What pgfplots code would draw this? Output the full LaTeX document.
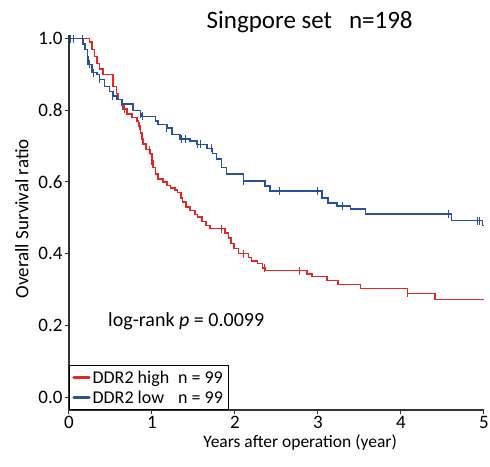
\documentclass[border=0pt]{standalone}
\usepackage{fontspec}
\setmainfont{Carlito}
\usepackage{pgfplots}
\pgfplotsset{compat=1.18}
\definecolor{kmred}{RGB}{228,38,36}
\definecolor{kmblue}{RGB}{40,80,160}
\begin{document}
\begin{tikzpicture}
\begin{axis}[
  scale only axis,
  width=415pt, height=375pt,
  xmin=0, xmax=5, ymin=-0.036, ymax=1.01,
  axis x line=bottom, axis y line=left,
  axis line style={-, line width=1.2pt, black!80},
  xtick={0,1,2,3,4,5},
  ytick={0,0.2,0.4,0.6,0.8,1.0},
  yticklabel style={/pgf/number format/fixed, /pgf/number format/fixed zerofill, /pgf/number format/precision=1, xshift=1pt},
  /pgf/number format/assume math mode=true,
  tick style={black!80, line width=1pt},
  tick align=outside, major tick length=4pt,
  ticklabel style={font=\fontsize{19}{22}\selectfont},
  xticklabel style={yshift=1pt},
  xlabel={Years after operation (year)},
  ylabel={Overall Survival ratio},
  xlabel style={font=\fontsize{17.5}{20}\selectfont, at={(ticklabel cs:0.557)}, anchor=north, yshift=1pt},
  ylabel style={font=\fontsize{19}{22}\selectfont, at={(ticklabel cs:0.51)}, anchor=south, yshift=3pt},
  clip=false,
  legend cell align=left,
  legend style={at={(0,0)}, anchor=south west, draw=black, line width=0.8pt,
    font=\fontsize{18}{20}\selectfont, row sep=2pt, inner sep=3pt},
  legend image code/.code={\draw[#1, line width=3.2pt, line cap=round] (0pt,0pt) -- (15pt,0pt);},
]
\addplot[kmred, line width=1.5pt, const plot] coordinates {
(0,1.0) (0.25,0.99) (0.28,0.97) (0.31,0.95) (0.34,0.93) (0.37,0.915) (0.41,0.90)
(0.53,0.867) (0.57,0.847) (0.59,0.83) (0.63,0.814) (0.65,0.803) (0.70,0.79) (0.76,0.78)
(0.82,0.77) (0.84,0.756) (0.86,0.736) (0.88,0.72) (0.89,0.706) (0.93,0.69) (0.98,0.678)
(1.00,0.658) (1.01,0.64) (1.04,0.622) (1.07,0.608) (1.13,0.60) (1.18,0.59) (1.22,0.583)
(1.28,0.577) (1.31,0.57) (1.35,0.556) (1.37,0.544) (1.41,0.53) (1.46,0.52) (1.52,0.51)
(1.55,0.503) (1.60,0.49) (1.65,0.478) (1.70,0.47) (1.88,0.458) (1.92,0.444) (1.95,0.428)
(1.99,0.414) (2.04,0.40) (2.16,0.39) (2.20,0.38) (2.27,0.372) (2.33,0.36) (2.37,0.353)
(2.87,0.344) (2.93,0.336) (3.11,0.325) (3.24,0.314) (3.51,0.303) (4.08,0.289) (4.41,0.272)
(5.00,0.272)};
\addlegendentry{\makebox[4.75em][l]{DDR2 high}n = 99}
\addplot[kmblue, line width=1.5pt, const plot] coordinates {
(0,1.0) (0.17,0.985) (0.19,0.97) (0.22,0.95) (0.23,0.928) (0.28,0.905) (0.34,0.90)
(0.37,0.886) (0.43,0.867) (0.49,0.853) (0.53,0.84) (0.58,0.83) (0.64,0.817) (0.77,0.80)
(0.86,0.79) (0.87,0.783) (1.04,0.77) (1.07,0.76) (1.18,0.75) (1.24,0.733) (1.34,0.72)
(1.46,0.714) (1.54,0.705) (1.66,0.694) (1.73,0.68) (1.78,0.664) (1.84,0.64) (1.90,0.622)
(2.10,0.603) (2.36,0.589) (2.42,0.575) (3.05,0.556) (3.12,0.542) (3.23,0.533) (3.39,0.525)
(3.57,0.511) (4.61,0.492) (4.98,0.478) (5.00,0.478)};
\addlegendentry{\makebox[4.75em][l]{DDR2 low}n = 99}
\addplot[kmred, only marks, mark=|, mark size=4pt, mark options={line width=1pt}, forget plot] coordinates {
(0.67,0.803) (0.85,0.756) (0.97,0.69) (1.00,0.658) (1.84,0.47) (2.10,0.40) (2.36,0.36) (2.78,0.353) (4.08,0.289)};
\addplot[kmblue, only marks, mark=|, mark size=4pt, mark options={line width=1pt}, forget plot] coordinates {
(0.02,1.0) (0.05,1.0) (0.16,1.0) (0.25,0.928) (0.30,0.905) (0.37,0.886) (0.53,0.84)
(0.86,0.79) (0.88,0.783) (1.18,0.75) (1.36,0.72) (1.40,0.72) (1.55,0.705) (1.58,0.705)
(1.72,0.694) (2.10,0.603) (2.54,0.575) (2.99,0.575) (3.30,0.533) (4.57,0.511) (4.92,0.492) (4.95,0.492)};
\node[font=\fontsize{25}{30}\selectfont] at (axis cs:2.9,1.047) {Singpore set\ \ \ n=198};
\node[font=\fontsize{20}{24}\selectfont, anchor=west] at (axis cs:0.43,0.211) {log-rank \textit{p} = 0.0099};
\coordinate (o) at (rel axis cs:0,0);
\end{axis}
\pgfresetboundingbox
\path[use as bounding box] (o) ++(-69pt,-56pt) rectangle ++(490pt,466pt);
\end{tikzpicture}
\end{document}
